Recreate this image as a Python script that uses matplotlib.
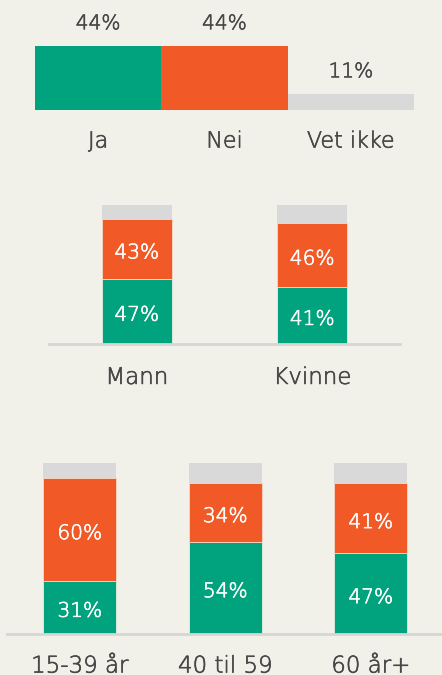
import matplotlib
matplotlib.use("Agg")
import matplotlib.pyplot as plt
import matplotlib.patheffects as pe

# Data
overall_labels = ['Ja', 'Nei', 'Vet ikke']
overall_values = [44, 44, 11]

gender_labels = ['Mann', 'Kvinne']
gender_ja = [47, 41]
gender_nei = [43, 46]
gender_vet = [10, 13]

age_labels = ['15-39 år', '40 til 59', '60 år+']
age_ja = [31, 54, 47]
age_nei = [60, 34, 41]
age_vet = [9, 12, 12]

GREEN = '#00A37D'
ORANGE = '#F15A27'
GREY = '#D9D9D9'
BG = '#F2F1E9'
TEXT = '#474747'
LINE = '#D6D6D6'
FS_PCT = 14.5
FS_CAT = 16.5

plt.rcParams['font.family'] = ['DejaVu Sans']
plt.rcParams['font.weight'] = 'light'


def thicker(color):
    # extra-light glyphs are a touch too thin, so add a hairline outline
    return [pe.Stroke(linewidth=0.45, foreground=color), pe.Normal()]


W, H = 442, 675
fig = plt.figure(figsize=(W / 100, H / 100), dpi=100, facecolor=BG)


def px_axes(x0, x1, y_top, y_bottom):
    """Axes placed by pixel coordinates (y measured from top)."""
    return fig.add_axes([x0 / W, (H - y_bottom) / H, (x1 - x0) / W, (y_bottom - y_top) / H])


def clean(ax, fs):
    ax.set_facecolor('none')
    for s in ['top', 'right', 'left']:
        ax.spines[s].set_visible(False)
    ax.set_yticks([])
    ax.tick_params(axis='x', length=0, labelsize=fs, labelcolor=TEXT, pad=0)


# --- overall -------------------------------------------------------------
ax1 = px_axes(35, 414, 10, 110)
colors = [GREEN, ORANGE, GREY]
xs = range(len(overall_values))
ax1.bar(xs, overall_values, width=1.0, color=colors, linewidth=0)
ax1.set_xlim(-0.5, 2.5)
ax1.set_ylim(0, 100 * 44 / 64)
clean(ax1, 16)
ax1.spines['bottom'].set_visible(False)
ax1.set_xticks(list(xs))
ax1.set_xticklabels(overall_labels)
ax1.tick_params(axis='x', pad=15.5)
for x, v in zip(xs, overall_values):
    ax1.annotate(f'{v}%', (x, v), xytext=(0, 16), textcoords='offset points',
                 ha='center', va='center', fontsize=FS_PCT, color=TEXT,
                 path_effects=thicker(TEXT))


def stacked(ax, labels, ja, nei, vet, width, pad):
    xs = list(range(len(labels)))
    ax.bar(xs, ja, width=width, color=GREEN, linewidth=0.6, edgecolor='#E8EFE0')
    ax.bar(xs, nei, width=width, bottom=ja, color=ORANGE, linewidth=0.6, edgecolor='#F3D9C8')
    bottoms = [a + b for a, b in zip(ja, nei)]
    ax.bar(xs, vet, width=width, bottom=bottoms, color=GREY, linewidth=0)
    for x, a, b in zip(xs, ja, nei):
        for y, v in [(a / 2, a), (a + b / 2, b)]:
            ax.annotate(f'{v}%', (x, y), xytext=(0, -1.5), textcoords='offset points',
                        ha='center', va='center_baseline', fontsize=FS_PCT, color='white',
                        path_effects=thicker('white'))
    ax.set_xlim(-0.5, len(labels) - 0.5)
    ax.set_ylim(0, 100)
    clean(ax, FS_CAT)
    ax.spines['bottom'].set_color(LINE)
    ax.spines['bottom'].set_linewidth(2)
    ax.set_xticks(xs)
    ax.set_xticklabels(labels)
    ax.tick_params(axis='x', pad=pad)


# --- gender --------------------------------------------------------------
ax2 = px_axes(49, 400, 205.2, 343.7)
stacked(ax2, gender_labels, gender_ja, gender_nei, gender_vet, 0.4, 16)

# --- age -----------------------------------------------------------------
ax3 = px_axes(7, 443.5, 463, 633.7)
stacked(ax3, age_labels, age_ja, age_nei, age_vet, 0.5, 15)

for ax in (ax1, ax2, ax3):
    for lbl in ax.get_xticklabels():
        lbl.set_path_effects(thicker(TEXT))

fig.savefig('out.png', dpi=100, facecolor=BG)
